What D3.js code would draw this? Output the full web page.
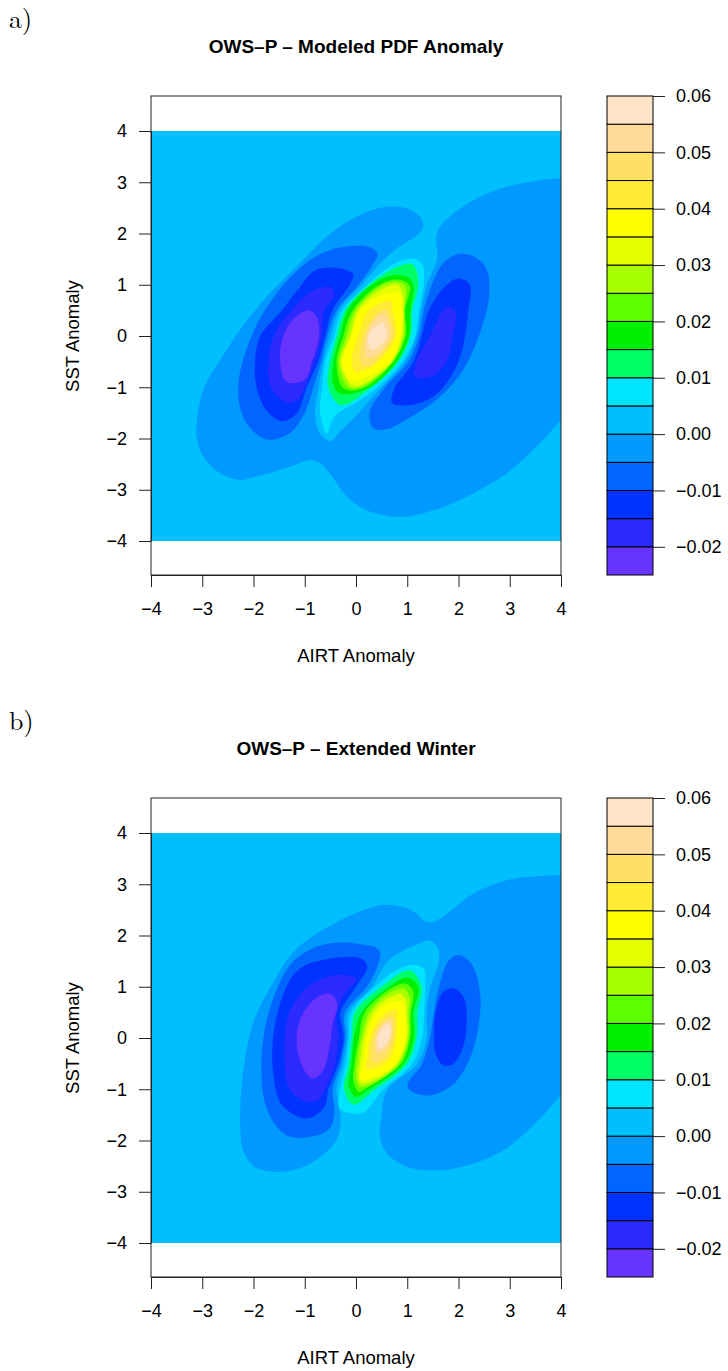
<!DOCTYPE html>
<html><head><meta charset="utf-8">
<script src="https://cdn.jsdelivr.net/npm/d3@7"></script>
<style>body{margin:0;background:#fff}</style>
</head><body>
<svg id="chart" width="728" height="1371" xmlns="http://www.w3.org/2000/svg"></svg>
<script>
// ---------------- data ----------------
// contour levels of the PDF anomaly and the colour of each band [levels[i], levels[i+1])
const levels = [-0.025,-0.02,-0.015,-0.01,-0.005,0,0.005,0.01,0.015,0.02,0.025,0.03,0.035,0.04,0.045,0.05,0.055,0.06];
const bandColors = ["#6633FF","#2B2BFF","#0033FF","#0066FF","#0099FF","#00BFFF","#00E5FF","#00FF66",
                    "#00F000","#5CFF00","#A8FF00","#E6FF00","#FFFF00","#FFEB33","#FFE066","#FFDC99","#FFE4C8"];
const keyTicks = [-0.02,-0.01,0,0.01,0.02,0.03,0.04,0.05,0.06];
const axisTicks = [-4,-3,-2,-1,0,1,2,3,4];

// Contour outlines, in data units [AIRT anomaly, SST anomaly].
// "below": region where the anomaly is below the level; "above": region where it is at/above the level.
const panelA_below = [
  {level: 0.000, ring: [[4.4,3.1],[4.0,3.08],[3.59,3.04],[2.94,2.91],[2.29,2.65],[1.9,2.39],[1.64,2.13],[1.57,1.94],[1.58,1.5],[1.38,1.0],[1.27,0.5],[1.18,0.0],[0.96,-0.5],[0.5,-1.0],[0.05,-1.5],[-0.3,-1.85],[-0.5,-2.05],[-0.72,-1.88],[-0.8,-1.5],[-0.73,-1.0],[-0.64,-0.5],[-0.5,0.0],[-0.33,0.5],[0.11,1.0],[0.55,1.5],[0.9,1.78],[1.2,1.97],[1.31,2.13],[1.25,2.33],[0.99,2.49],[0.6,2.52],[0.01,2.33],[-0.57,1.94],[-1.16,1.35],[-1.74,0.77],[-2.26,0.12],[-2.65,-0.47],[-2.98,-1.05],[-3.11,-1.7],[-3.11,-1.96],[-2.98,-2.35],[-2.65,-2.68],[-2.26,-2.81],[-1.94,-2.74],[-1.29,-2.55],[-0.9,-2.42],[-0.7,-2.48],[-0.47,-2.74],[-0.18,-3.13],[0.21,-3.4],[0.86,-3.53],[1.64,-3.36],[2.29,-3.07],[2.94,-2.68],[3.59,-2.09],[4.0,-1.64],[4.4,-1.2],[4.4,0],[4.4,1],[4.4,2]]},
  {level: -0.005, ring: [[-1.74,-2.02],[-2.1,-1.75],[-2.28,-1.3],[-2.28,-0.8],[-2.15,-0.3],[-1.95,0.2],[-1.7,0.62],[-1.35,1.08],[-0.9,1.48],[-0.5,1.68],[0.0,1.76],[0.3,1.72],[0.42,1.6],[0.34,1.42],[0.05,1.0],[-0.38,0.5],[-0.56,0.0],[-0.68,-0.5],[-0.83,-1.0],[-1.0,-1.5],[-1.3,-1.9]]},
  {level: -0.005, ring: [[0.34,-1.8],[0.26,-1.5],[0.57,-1.0],[1.02,-0.5],[1.23,0.0],[1.32,0.5],[1.48,1.0],[1.7,1.42],[2.0,1.6],[2.3,1.55],[2.55,1.3],[2.6,0.8],[2.45,0.15],[2.1,-0.65],[1.6,-1.22],[1.0,-1.62],[0.6,-1.82]]},
  {level: -0.010, ring: [[-1.45,-1.66],[-1.75,-1.45],[-1.94,-1.0],[-1.97,-0.5],[-1.87,0.0],[-1.45,0.5],[-1.1,0.95],[-0.8,1.28],[-0.4,1.33],[-0.05,1.2],[-0.12,1.0],[-0.46,0.5],[-0.6,0.0],[-0.74,-0.5],[-0.96,-1.0],[-1.15,-1.5]]},
  {level: -0.010, ring: [[0.7,-1.3],[0.76,-1.0],[1.12,-0.5],[1.28,0.0],[1.42,0.5],[1.77,1.0],[2.0,1.12],[2.22,1.0],[2.19,0.5],[2.13,0.0],[2.0,-0.5],[1.7,-1.0],[1.4,-1.25],[1.0,-1.35]]},
  {level: -0.015, ring: [[-1.35,-1.3],[-1.66,-1.0],[-1.71,-0.5],[-1.61,0.0],[-1.3,0.45],[-0.9,0.85],[-0.5,0.95],[-0.42,0.8],[-0.62,0.5],[-0.67,0.0],[-0.8,-0.5],[-1.0,-1.0],[-1.15,-1.25]]},
  {level: -0.015, ring: [[1.15,-0.78],[1.18,-0.5],[1.44,0.0],[1.7,0.5],[1.85,0.57],[1.95,0.45],[1.89,0.0],[1.77,-0.5],[1.45,-0.8]]},
  {level: -0.020, ring: [[-1.35,-0.9],[-1.48,-0.5],[-1.42,0.0],[-1.2,0.35],[-0.95,0.5],[-0.78,0.4],[-0.72,0.0],[-0.86,-0.5],[-1.0,-0.85]]}
];
const panelA_above = [
  {level: 0.005, ring: [[-0.57,-1.9],[-0.7,-1.5],[-0.66,-1.0],[-0.6,-0.5],[-0.43,0.0],[-0.27,0.5],[0.22,1.0],[0.6,1.32],[0.9,1.48],[1.15,1.5],[1.3,1.38],[1.32,1.0],[1.23,0.5],[1.16,0.0],[0.905,-0.5],[0.42,-1.0],[0.0,-1.3],[-0.41,-1.55]]},
  {level: 0.010, ring: [[-0.3,-1.35],[-0.54,-1.0],[-0.51,-0.5],[-0.377,0.0],[-0.215,0.5],[0.26,1.0],[0.7,1.3],[1.1,1.4],[1.22,1.05],[1.099,0.5],[1.066,0.0],[0.826,-0.5],[0.306,-1.0]]},
  {level: 0.015, ring: [[-0.3,-1.13],[-0.443,-0.95],[-0.443,-0.5],[-0.312,0.0],[-0.163,0.5],[0.306,1.0],[0.7,1.18],[1.0,1.15],[1.12,1.0],[1.066,0.5],[1.034,0.0],[0.793,-0.5],[0.273,-1.0]]},
  {level: 0.020, ring: [[-0.15,-1.06],[-0.28,-0.98],[-0.378,-0.5],[-0.247,0.0],[-0.065,0.5],[0.455,1.0],[0.85,1.1],[1.05,0.98],[0.956,0.5],[0.969,0.0],[0.73,-0.5],[0.176,-1.0]]},
  {level: 0.025, ring: [[-0.1,-1.02],[-0.25,-0.85],[-0.332,-0.5],[-0.182,0.0],[-0.013,0.5],[0.533,1.0],[0.85,1.05],[0.97,0.95],[0.943,0.5],[0.936,0.0],[0.715,-0.5],[0.143,-0.98]]},
  {level: 0.030, ring: [[-0.07,-0.97],[-0.2,-0.8],[-0.3,-0.5],[-0.117,0.0],[0.039,0.5],[0.45,0.88],[0.8,1.0],[0.92,0.8],[0.923,0.5],[0.904,0.0],[0.696,-0.5],[0.11,-0.95]]},
  {level: 0.035, ring: [[-0.12,-0.86],[-0.26,-0.5],[-0.085,0.0],[0.091,0.5],[0.5,0.8],[0.84,0.83],[0.9,0.5],[0.87,0.0],[0.664,-0.5],[0.15,-0.82]]},
  {level: 0.040, ring: [[0.0,-0.7],[-0.085,-0.5],[0.045,0.0],[0.254,0.5],[0.68,0.68],[0.72,0.5],[0.78,0.0],[0.436,-0.5],[0.15,-0.68]]},
  {level: 0.045, ring: [[0.12,-0.58],[0.078,-0.45],[0.143,0.0],[0.416,0.45],[0.6,0.52],[0.66,0.35],[0.728,0.0],[0.37,-0.5],[0.25,-0.58]]},
  {level: 0.050, ring: [[0.22,-0.42],[0.208,0.0],[0.4,0.35],[0.56,0.42],[0.663,0.0],[0.45,-0.33]]},
  {level: 0.055, ring: [[0.3,-0.27],[0.24,0.0],[0.4,0.2],[0.52,0.25],[0.598,0.0],[0.45,-0.2]]}
];

const panelB_below = [
  {level: 0.000, ring: [[4.4,3.2],[4.0,3.18],[3.59,3.16],[2.94,3.08],[2.29,2.82],[2.03,2.63],[1.64,2.33],[1.51,2.27],[1.35,2.28],[1.18,2.43],[0.92,2.56],[0.53,2.6],[0.34,2.56],[-0.38,2.26],[-1.16,1.74],[-1.61,1.09],[-2.0,0.31],[-2.2,-0.66],[-2.26,-1.64],[-2.2,-2.2],[-2.0,-2.5],[-1.61,-2.61],[-1.09,-2.54],[-0.7,-2.32],[-0.38,-1.99],[-0.3,-1.6],[-0.38,-1.0],[-0.25,-0.5],[-0.17,0.0],[-0.15,0.5],[0.31,1.0],[0.62,1.5],[0.95,1.72],[1.25,1.85],[1.45,1.9],[1.6,1.75],[1.62,1.5],[1.45,1.0],[1.38,0.5],[1.38,0.0],[1.2,-0.5],[0.61,-1.0],[0.5,-1.5],[0.47,-1.93],[0.6,-2.25],[0.99,-2.51],[1.64,-2.58],[2.29,-2.45],[2.94,-2.15],[3.59,-1.57],[4.0,-1.11],[4.4,-0.7],[4.4,0.5],[4.4,1.5],[4.4,2.5]]},
  {level: -0.005, ring: [[-0.77,-1.9],[-1.35,-1.9],[-1.74,-1.38],[-1.84,-0.34],[-1.68,0.57],[-1.29,1.42],[-0.9,1.72],[-0.5,1.85],[0.1,1.83],[0.45,1.72],[0.45,1.5],[0.21,1.0],[-0.215,0.5],[-0.21,0.0],[-0.3,-0.5],[-0.455,-1.0],[-0.42,-1.45],[-0.5,-1.75]]},
  {level: -0.005, ring: [[1.44,-1.12],[1.1,-1.05],[1.0,-0.92],[1.29,-0.5],[1.44,0.0],[1.52,0.5],[1.62,1.0],[1.8,1.5],[2.0,1.62],[2.25,1.45],[2.42,0.9],[2.4,0.3],[2.22,-0.4],[1.9,-0.9]]},
  {level: -0.010, ring: [[-0.96,-1.57],[-1.45,-1.3],[-1.6,-0.8],[-1.62,0.0],[-1.4,0.9],[-1.1,1.35],[-0.5,1.55],[0.1,1.55],[0.22,1.4],[0.0,1.0],[-0.3,0.5],[-0.24,0.0],[-0.345,-0.5],[-0.54,-1.0],[-0.62,-1.35]]},
  {level: -0.010, ring: [[1.7,-0.53],[1.55,-0.3],[1.52,0.0],[1.55,0.5],[1.7,0.9],[1.9,0.97],[2.1,0.8],[2.16,0.3],[2.08,-0.2],[1.9,-0.5]]},
  {level: -0.015, ring: [[-0.95,-1.25],[-1.3,-1.0],[-1.39,-0.5],[-1.39,0.0],[-1.3,0.5],[-1.0,0.95],[-0.55,1.2],[-0.15,1.22],[0.01,1.15],[-0.2,0.9],[-0.377,0.5],[-0.345,0.0],[-0.41,-0.5],[-0.6,-1.0],[-0.72,-1.2]]},
  {level: -0.020, ring: [[-0.5,0.86],[-0.36,0.65],[-0.45,0.3],[-0.52,-0.2],[-0.65,-0.65],[-0.85,-0.79],[-1.05,-0.55],[-1.16,0.0],[-1.05,0.45],[-0.75,0.8]]}
];
const panelB_above = [
  {level: 0.005, ring: [[0.11,-1.47],[-0.31,-1.38],[-0.31,-1.0],[-0.2,-0.5],[-0.137,0.0],[-0.085,0.5],[0.37,1.0],[0.75,1.3],[1.1,1.43],[1.32,1.35],[1.35,1.0],[1.33,0.5],[1.29,0.0],[1.1,-0.5],[0.53,-1.0],[0.3,-1.3]]},
  {level: 0.010, ring: [[-0.05,-1.3],[-0.23,-1.0],[-0.14,-0.5],[-0.085,0.0],[-0.02,0.5],[0.5,1.0],[1.05,1.32],[1.28,1.0],[1.2,0.5],[1.18,0.0],[1.0,-0.5],[0.38,-1.0]]},
  {level: 0.015, ring: [[0.0,-1.15],[-0.14,-0.95],[-0.09,-0.5],[-0.04,0.0],[0.11,0.5],[0.65,1.0],[1.0,1.18],[1.22,1.0],[1.12,0.5],[1.13,0.0],[0.93,-0.5],[0.26,-1.0]]},
  {level: 0.020, ring: [[0.05,-1.05],[-0.05,-0.85],[-0.03,-0.5],[0.058,0.0],[0.17,0.5],[0.7,0.98],[0.98,1.06],[1.12,0.9],[1.07,0.5],[1.054,0.0],[0.88,-0.5],[0.2,-0.98]]},
  {level: 0.025, ring: [[0.08,-0.95],[0.0,-0.75],[0.02,-0.5],[0.104,0.0],[0.26,0.5],[0.65,0.88],[0.94,0.96],[1.05,0.78],[1.03,0.5],[1.03,0.0],[0.84,-0.5],[0.33,-0.88]]},
  {level: 0.030, ring: [[0.1,-0.88],[0.05,-0.7],[0.08,-0.5],[0.15,0.0],[0.33,0.5],[0.63,0.78],[0.88,0.86],[0.99,0.68],[0.99,0.5],[1.0,0.0],[0.8,-0.5],[0.4,-0.8]]},
  {level: 0.035, ring: [[0.08,-0.8],[0.15,-0.5],[0.208,0.0],[0.4,0.5],[0.68,0.7],[0.9,0.7],[0.95,0.5],[0.969,0.0],[0.77,-0.5],[0.4,-0.74]]},
  {level: 0.040, ring: [[0.2,-0.6],[0.22,-0.4],[0.273,0.0],[0.5,0.42],[0.78,0.55],[0.8,0.35],[0.79,0.0],[0.66,-0.4],[0.45,-0.57]]},
  {level: 0.045, ring: [[0.33,-0.48],[0.3,-0.3],[0.338,0.0],[0.52,0.33],[0.71,0.42],[0.74,0.15],[0.71,-0.1],[0.57,-0.38]]},
  {level: 0.050, ring: [[0.42,-0.3],[0.39,0.0],[0.5,0.25],[0.67,0.33],[0.695,0.05],[0.58,-0.22]]},
  {level: 0.055, ring: [[0.45,-0.21],[0.42,0.0],[0.52,0.2],[0.65,0.28],[0.663,0.05],[0.56,-0.15]]}
];

const panels = [
  {tag:"a)", title:"OWS\u2013P \u2013 Modeled PDF Anomaly", below:panelA_below, above:panelA_above, dy:0},
  {tag:"b)", title:"OWS\u2013P \u2013 Extended Winter", below:panelB_below, above:panelB_above, dy:702}
];

// ---------------- rendering ----------------
const svg = d3.select("#chart");
const SANS = "'Liberation Sans', Arial, Helvetica, sans-serif";
const fmt = d => (d < 0 ? "\u2212" : "") + Math.abs(d);
const fmtKey = d => (d < 0 ? "\u2212" : "") + Math.abs(d).toFixed(2);
const bandOf = v => Math.round((v - levels[0]) / 0.005);

panels.forEach((p, k) => {
  const dy = p.dy;
  const x = d3.scaleLinear().domain([-4, 4]).range([151, 561]);
  const y = d3.scaleLinear().domain([-4, 4]).range([541 + dy, 131 + dy]);
  const boxTop = 96 + dy, boxBot = 575 + dy;
  const g = svg.append("g");

  g.append("text").attr("x", 9).attr("y", 28 + dy)
    .attr("font-family", "'Latin Modern Roman','Liberation Serif','DejaVu Serif',serif")
    .attr("font-size", 26).attr("fill", "#000").text(p.tag);
  g.append("text").attr("x", 356).attr("y", 53 + dy).attr("text-anchor", "middle")
    .attr("font-family", SANS).attr("font-weight", "bold").attr("font-size", 19).attr("fill", "#000").text(p.title);

  const clipId = "clip" + k;
  svg.append("clipPath").attr("id", clipId).append("rect")
    .attr("x", x(-4)).attr("y", y(4)).attr("width", x(4) - x(-4)).attr("height", y(-4) - y(4));
  const fg = g.append("g").attr("clip-path", `url(#${clipId})`);
  // background band 0 .. 0.005
  fg.append("rect").attr("x", x(-4)).attr("y", y(4)).attr("width", x(4) - x(-4)).attr("height", y(-4) - y(4))
    .attr("fill", bandColors[bandOf(0)]);

  const line = d3.line().x(d => x(d[0])).y(d => y(d[1])).curve(d3.curveCatmullRomClosed.alpha(0.5));
  const below = p.below.slice().sort((a, b) => b.level - a.level);
  fg.selectAll("path.below").data(below).join("path").attr("class", "below")
    .attr("d", d => line(d.ring))
    .attr("fill", d => bandColors[bandOf(d.level) - 1]);
  const above = p.above.slice().sort((a, b) => a.level - b.level);
  fg.selectAll("path.above").data(above).join("path").attr("class", "above")
    .attr("d", d => line(d.ring))
    .attr("fill", d => bandColors[bandOf(d.level)]);

  g.append("rect").attr("x", 151).attr("y", boxTop).attr("width", 410).attr("height", boxBot - boxTop)
    .attr("fill", "none").attr("stroke", "#222").attr("stroke-width", 1);

  const xa = g.append("g").attr("transform", `translate(0,${boxBot})`)
    .call(d3.axisBottom(x).tickValues(axisTicks).tickFormat(fmt).tickSize(12).tickSizeOuter(0).tickPadding(15));
  const ya = g.append("g").attr("transform", `translate(151,0)`)
    .call(d3.axisLeft(y).tickValues(axisTicks).tickFormat(fmt).tickSize(12).tickSizeOuter(0).tickPadding(12));
  [xa, ya].forEach(a => {
    a.selectAll("text").attr("font-family", SANS).attr("font-size", 18).attr("fill", "#000");
    a.selectAll("line").attr("stroke", "#222");
    a.select(".domain").attr("stroke", "#222");
  });
  g.append("text").attr("x", 356).attr("y", 662 + dy).attr("text-anchor", "middle")
    .attr("font-family", SANS).attr("font-size", 18.5).attr("fill", "#000").text("AIRT Anomaly");
  g.append("text").attr("transform", `translate(79,${336 + dy}) rotate(-90)`).attr("text-anchor", "middle")
    .attr("font-family", SANS).attr("font-size", 18.5).attr("fill", "#000").text("SST Anomaly");

  // colour key
  const ky = d3.scaleLinear().domain([levels[0], levels[levels.length - 1]]).range([boxBot, boxTop]);
  const bands = d3.range(bandColors.length).map(i => ({lo: levels[i], hi: levels[i + 1], c: bandColors[i]}));
  g.append("g").selectAll("rect").data(bands).join("rect")
    .attr("x", 607).attr("width", 46)
    .attr("y", d => ky(d.hi)).attr("height", d => ky(d.lo) - ky(d.hi))
    .attr("fill", d => d.c).attr("stroke", "#000").attr("stroke-width", 1);
  const ka = g.append("g").attr("transform", `translate(653,0)`)
    .call(d3.axisRight(ky).tickValues(keyTicks).tickFormat(fmtKey).tickSize(12).tickSizeOuter(0).tickPadding(11));
  ka.select(".domain").remove();
  ka.selectAll("text").attr("font-family", SANS).attr("font-size", 18).attr("fill", "#000");
  ka.selectAll("line").attr("stroke", "#222");
});
</script>
</body></html>
